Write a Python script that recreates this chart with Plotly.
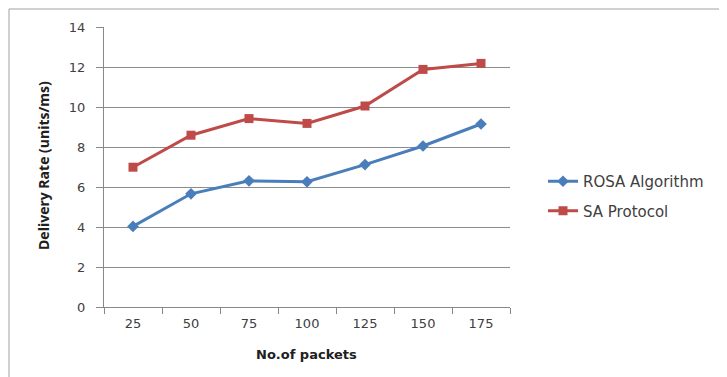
import plotly.graph_objects as go

categories = ["25", "50", "75", "100", "125", "150", "175"]
rosa = [4.03, 5.66, 6.31, 6.26, 7.12, 8.05, 9.15]
sa = [6.99, 8.59, 9.42, 9.18, 10.05, 11.88, 12.18]
y_ticks = [0, 2, 4, 6, 8, 10, 12, 14]

TICKFONT = "DejaVu Sans"
TITLEFONT = "Open Sans"

fig = go.Figure()
fig.add_trace(go.Scatter(
    x=categories, y=rosa, name="ROSA Algorithm", mode="lines+markers",
    legendgroup="a",
    line=dict(color="#4a7ebb", width=3),
    marker=dict(symbol="diamond", size=9, color="#4a7ebb"),
))
fig.add_trace(go.Scatter(
    x=categories, y=sa, name="SA Protocol", mode="lines+markers",
    legendgroup="b",
    line=dict(color="#be4b48", width=3),
    marker=dict(symbol="square", size=9, color="#be4b48"),
))

# page offset of 8px (browser body margin) compensated
W, H = 719, 369
L, R, T, B = 96, 502, 19, 299
pw, ph = R - L, B - T

fig.update_layout(
    width=W, height=H,
    margin=dict(l=L, r=W - R, t=T, b=H - B, pad=0),
    paper_bgcolor="white", plot_bgcolor="white",
    font=dict(family=TICKFONT, size=13, color="#404040"),
    showlegend=True,
    legend=dict(
        x=(543 - 104) / pw, y=(307 - 196) / ph, xanchor="left", yanchor="middle",
        font=dict(family=TICKFONT, size=15, color="#404040"),
        bgcolor="rgba(0,0,0,0)", traceorder="grouped", tracegroupgap=7,
    ),
    xaxis=dict(
        type="category", range=[-0.5, 6.5],
        showgrid=False, showline=True, linecolor="#888888", linewidth=1,
        ticks="outside", ticklen=6, tickcolor="#888888", tickson="boundaries",
        tickfont=dict(family=TICKFONT, size=13, color="#404040"),
        ticklabelstandoff=4,
    ),
    yaxis=dict(
        range=[0, 14], tickvals=y_ticks,
        showgrid=True, gridcolor="#8c8c8c", gridwidth=1,
        showline=True, linecolor="#888888", linewidth=1,
        ticks="outside", ticklen=7, tickcolor="#888888",
        zeroline=False,
        tickfont=dict(family=TICKFONT, size=13, color="#404040"),
        ticklabelstandoff=8,
    ),
    annotations=[
        dict(text="<b>Delivery Rate (units/ms)</b>", xref="paper", yref="paper",
             x=0, y=0.5 + (167 - 166) / ph, xanchor="center", yanchor="middle",
             xshift=-61, textangle=-90, showarrow=False,
             font=dict(family=TITLEFONT, size=14, color="#202020")),
        dict(text="<b>No.of packets</b>", xref="paper", yref="paper",
             x=(306 - 104) / pw, y=0, xanchor="center", yanchor="middle",
             yshift=-47, showarrow=False,
             font=dict(family=TICKFONT, size=13, color="#202020")),
    ],
    shapes=[dict(
        type="rect", xref="paper", yref="paper",
        x0=(9 - 104) / pw, x1=(721 - 104) / pw,
        y0=(307 - 420) / ph, y1=(307 - 9) / ph,
        line=dict(color="#a0a0a0", width=1), fillcolor="rgba(0,0,0,0)", layer="below",
    )],
)

fig.write_html("out.html")
